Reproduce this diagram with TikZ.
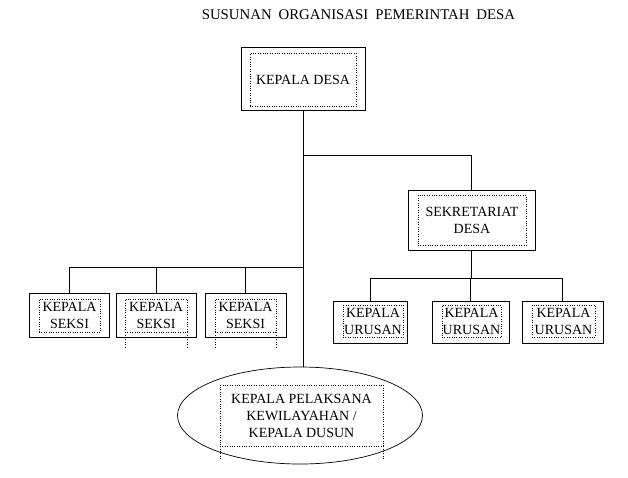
\documentclass[tikz,border=0pt]{standalone}
\usepackage{fontspec}
\setmainfont{Liberation Serif}
\usetikzlibrary{positioning}
\usetikzlibrary{shapes.geometric}

\begin{document}
\begin{tikzpicture}[x=1pt,y=-1pt]
    % Stili per i riquadri
    \tikzset{
        outer box/.style={
            draw,
            line width=0.9pt,
            inner sep=0pt
        },
        inner box/.style={
            draw,
            dotted,
            inner sep=0pt,
            align=center,
            font=\fontsize{14}{17}\selectfont
        },
        link/.style={line width=0.8pt}
    }

    \useasboundingbox (0,0) rectangle (628,477);

    % Titolo
    \node[font=\fontsize{14.8}{17}\selectfont] (title) at (358.5,15)
        {SUSUNAN\hspace{7pt}ORGANISASI\hspace{7pt}PEMERINTAH\hspace{7pt}DESA};

    % Kepala desa
    \node[outer box, minimum width=124, minimum height=63] (kd) at (303,79) {};
    \node[inner box, minimum width=106, minimum height=53] (kd text) at (303,79.5) {KEPALA DESA};

    % Sekretariat
    \node[outer box, minimum width=127, minimum height=60] (sek) at (471.5,220) {};
    \node[inner box, minimum width=108, minimum height=50] (sek text) at (472,220) {SEKRETARIAT\\DESA};

    % Kepala urusan
    \node[outer box, minimum width=74, minimum height=42] (urusan1) at (370,322) {};
    \node[inner box, minimum width=60, minimum height=32] (urusan1 text) at (373,321) {KEPALA\\URUSAN};

    \node[outer box, minimum width=77, minimum height=42] (urusan2) at (470.5,322) {};
    \node[inner box, minimum width=59, minimum height=32] (urusan2 text) at (471.5,321) {KEPALA\\URUSAN};

    \node[outer box, minimum width=81, minimum height=42] (urusan3) at (562.5,322) {};
    \node[inner box, minimum width=63, minimum height=32] (urusan3 text) at (563.5,321) {KEPALA\\URUSAN};

    % Kepala seksi
    \node[outer box, minimum width=80, minimum height=44] (seksi1) at (69,315) {};
    \node[inner box, minimum width=61, minimum height=33] (seksi1 text) at (69.5,315.5) {KEPALA\\SEKSI};

    \node[outer box, minimum width=80, minimum height=44] (seksi2) at (156,315) {};
    \node[inner box, minimum width=62, minimum height=33] (seksi2 text) at (156,315.5) {KEPALA\\SEKSI};
    \draw[dotted] (seksi2 text.south west) -- ++(0,16);
    \draw[dotted] (seksi2 text.south east) -- ++(0,16);

    \node[outer box, minimum width=81, minimum height=44] (seksi3) at (245.5,315) {};
    \node[inner box, minimum width=61, minimum height=33] (seksi3 text) at (245.5,315.5) {KEPALA\\SEKSI};
    \draw[dotted] (seksi3 text.south west) -- ++(0,16);
    \draw[dotted] (seksi3 text.south east) -- ++(0,16);

    % Kepala dusun
    \node[ellipse, draw, line width=0.7pt, minimum width=245, minimum height=97] (dusun) at (300,415.5) {};
    \node[inner box, minimum width=163, minimum height=61] (dusun text) at (301.5,415.5)
        {KEPALA PELAKSANA\\KEWILAYAHAN /\\KEPALA DUSUN};
    \draw[dotted] (dusun text.south west) -- ++(0,13);
    \draw[dotted] (dusun text.south east) -- ++(0,13);

    % Garis
    \coordinate (jr) at (303,155);
    \coordinate (jl) at (303,267);
    \coordinate (ju) at (472,278);

    \draw[link] (kd.south) -- (kd.south |- dusun.north);
    \draw[link] (jr) -| (sek.north);

    \draw[link] (seksi1.north) |- (jl);
    \draw[link] (seksi2.north) -- (seksi2.north |- jl);
    \draw[link] (seksi3.north) -- (seksi3.north |- jl);

    \draw[link] (sek.south) -- (sek.south |- ju);
    \draw[link] (urusan1.north) |- (urusan3.north |- ju) -- (urusan3.north);
    \draw[link] (urusan2.north) -- (urusan2.north |- ju);
\end{tikzpicture}
\end{document}
